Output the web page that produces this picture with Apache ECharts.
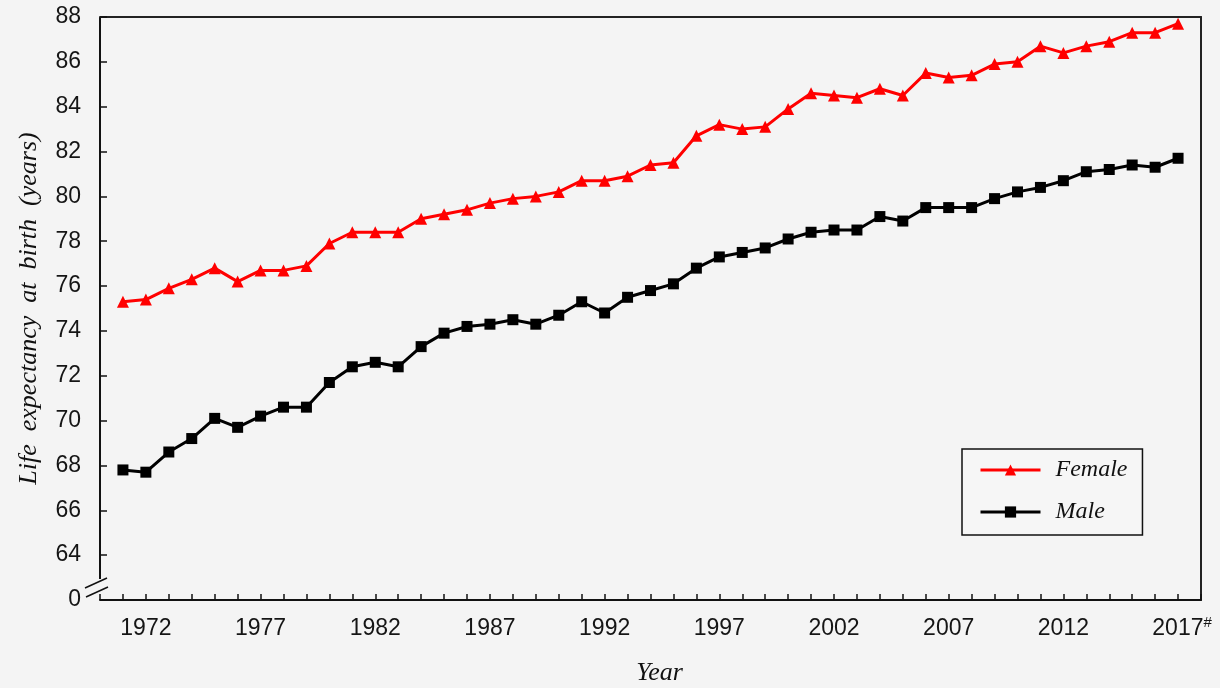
<!DOCTYPE html>
<html>
<head>
<meta charset="utf-8">
<script src="https://cdn.jsdelivr.net/npm/echarts@6/dist/echarts.min.js"></script>
<style>
  html, body { margin: 0; padding: 0; background: #f4f4f4; }
  #chart { width: 1220px; height: 688px; }
</style>
</head>
<body>
<div id="chart"></div>
<script>
var years = [1971, 1972, 1973, 1974, 1975, 1976, 1977, 1978, 1979, 1980,
  1981, 1982, 1983, 1984, 1985, 1986, 1987, 1988, 1989, 1990,
  1991, 1992, 1993, 1994, 1995, 1996, 1997, 1998, 1999, 2000,
  2001, 2002, 2003, 2004, 2005, 2006, 2007, 2008, 2009, 2010,
  2011, 2012, 2013, 2014, 2015, 2016, 2017];
var female = [75.3, 75.4, 75.9, 76.3, 76.8, 76.2, 76.7, 76.7, 76.9, 77.9,
  78.4, 78.4, 78.4, 79.0, 79.2, 79.4, 79.7, 79.9, 80.0, 80.2,
  80.7, 80.7, 80.9, 81.4, 81.5, 82.7, 83.2, 83.0, 83.1, 83.9,
  84.6, 84.5, 84.4, 84.8, 84.5, 85.5, 85.3, 85.4, 85.9, 86.0,
  86.7, 86.4, 86.7, 86.9, 87.3, 87.3, 87.7];
var male = [67.8, 67.7, 68.6, 69.2, 70.1, 69.7, 70.2, 70.6, 70.6, 71.7,
  72.4, 72.6, 72.4, 73.3, 73.9, 74.2, 74.3, 74.5, 74.3, 74.7,
  75.3, 74.8, 75.5, 75.8, 76.1, 76.8, 77.3, 77.5, 77.7, 78.1,
  78.4, 78.5, 78.5, 79.1, 78.9, 79.5, 79.5, 79.5, 79.9, 80.2,
  80.4, 80.7, 81.1, 81.2, 81.4, 81.3, 81.7];
var labelYears = [1972, 1977, 1982, 1987, 1992, 1997, 2002, 2007, 2012, 2017];
var provisionalYear = 2017; // marked with # in the source

var serif = "'Liberation Serif', 'DejaVu Serif', serif";
var sans = "'Liberation Sans', Arial, sans-serif";

function pairs(vals) {
  return years.map(function (y, i) { return [y, vals[i]]; });
}

var chart = echarts.init(document.getElementById("chart"));

var option = {
  animation: false,
  backgroundColor: "#f4f4f4",
  grid: {
    left: 100,
    right: 19,
    top: 17,
    bottom: 88,
    outerBoundsMode: "none",
  },
  legend: {
    left: 962,
    top: 449,
    orient: "vertical",
    padding: [9, 15, 11, 17],
    itemGap: 18,
    itemWidth: 60,
    itemHeight: 14,
    borderColor: "#111",
    borderWidth: 1.5,
    borderRadius: 0,
    backgroundColor: "#f6f6f6",
    lineStyle: { width: 3 },
    textStyle: {
      fontFamily: serif,
      fontStyle: "italic",
      fontSize: 24,
      color: "#111",
      padding: [0, 0, 0, 10],
    },
    data: ["Female", "Male"],
  },
  xAxis: [
    {
      type: "value",
      min: 1970,
      max: 2018,
      interval: 1,
      name: "Year",
      nameLocation: "middle",
      nameGap: 60,
      nameTextStyle: {
        fontFamily: serif,
        fontStyle: "italic",
        fontSize: 26,
        color: "#111",
        padding: [0, 0, 0, 18],
      },
      axisLine: { lineStyle: { color: "#111", width: 2 } },
      axisTick: { inside: true, length: 6, lineStyle: { color: "#111", width: 1.5 } },
      splitLine: { show: false },
      axisLabel: {
        margin: 15,
        fontFamily: sans,
        fontSize: 23,
        lineHeight: 28,
        color: "#151515",
        formatter: function (v) {
          if (labelYears.indexOf(v) < 0) return "";
          if (v === provisionalYear) return "{pad|}" + v + "{sup|#}";
          return String(v);
        },
        rich: {
          pad: { width: 8 },
          sup: { fontFamily: sans, fontSize: 15, lineHeight: 15, color: "#151515", verticalAlign: "top" },
        },
      },
    },
    {
      type: "value",
      position: "top",
      min: 1970,
      max: 2018,
      axisLine: { show: true, lineStyle: { color: "#222", width: 2 } },
      axisTick: { show: false },
      axisLabel: { show: false },
      splitLine: { show: false },
    },
  ],
  yAxis: [
    {
      type: "value",
      min: 62,
      max: 88,
      interval: 2,
      name: "Life  expectancy  at  birth  (years)",
      nameLocation: "middle",
      nameGap: 58,
      nameTextStyle: {
        fontFamily: serif,
        fontStyle: "italic",
        fontSize: 26,
        color: "#111",
      },
      axisLine: { show: false },
      axisTick: { inside: true, length: 7, lineStyle: { color: "#111", width: 1.5 } },
      splitLine: { show: false },
      axisLabel: {
        margin: 19,
        fontFamily: sans,
        fontSize: 23,
        color: "#151515",
        formatter: function (v) {
          return v === 62 ? "0" : String(v);
        },
      },
    },
    {
      type: "value",
      position: "right",
      min: 62,
      max: 88,
      axisLine: { show: true, lineStyle: { color: "#222", width: 2 } },
      axisTick: { show: false },
      axisLabel: { show: false },
      splitLine: { show: false },
    },
  ],
  series: [
    {
      name: "Female",
      type: "line",
      data: pairs(female),
      symbol: "triangle",
      symbolSize: 12,
      lineStyle: { color: "#ff0000", width: 3 },
      itemStyle: { color: "#ff0000" },
    },
    {
      name: "Male",
      type: "line",
      data: pairs(male),
      symbol: "rect",
      symbolSize: 11,
      lineStyle: { color: "#000", width: 3 },
      itemStyle: { color: "#000" },
    },
  ],
};

chart.setOption(option);

// left axis line with a break near zero, positioned from the axis scale
var pTop = chart.convertToPixel({ gridIndex: 0 }, [1970, 88]);
var pBot = chart.convertToPixel({ gridIndex: 0 }, [1970, 62]);
var ax = pTop[0], by = pBot[1];
var breakStyle = { stroke: "#111", lineWidth: 1.5 };
chart.setOption({
  graphic: [
    { type: "line", shape: { x1: ax, y1: pTop[1], x2: ax, y2: by - 21 }, style: { stroke: "#111", lineWidth: 2 } },
    { type: "line", shape: { x1: ax - 15, y1: by - 12, x2: ax + 7, y2: by - 22 }, style: breakStyle },
    { type: "line", shape: { x1: ax - 14, y1: by - 3, x2: ax + 8, y2: by - 13 }, style: breakStyle },
  ],
});
</script>
</body>
</html>
